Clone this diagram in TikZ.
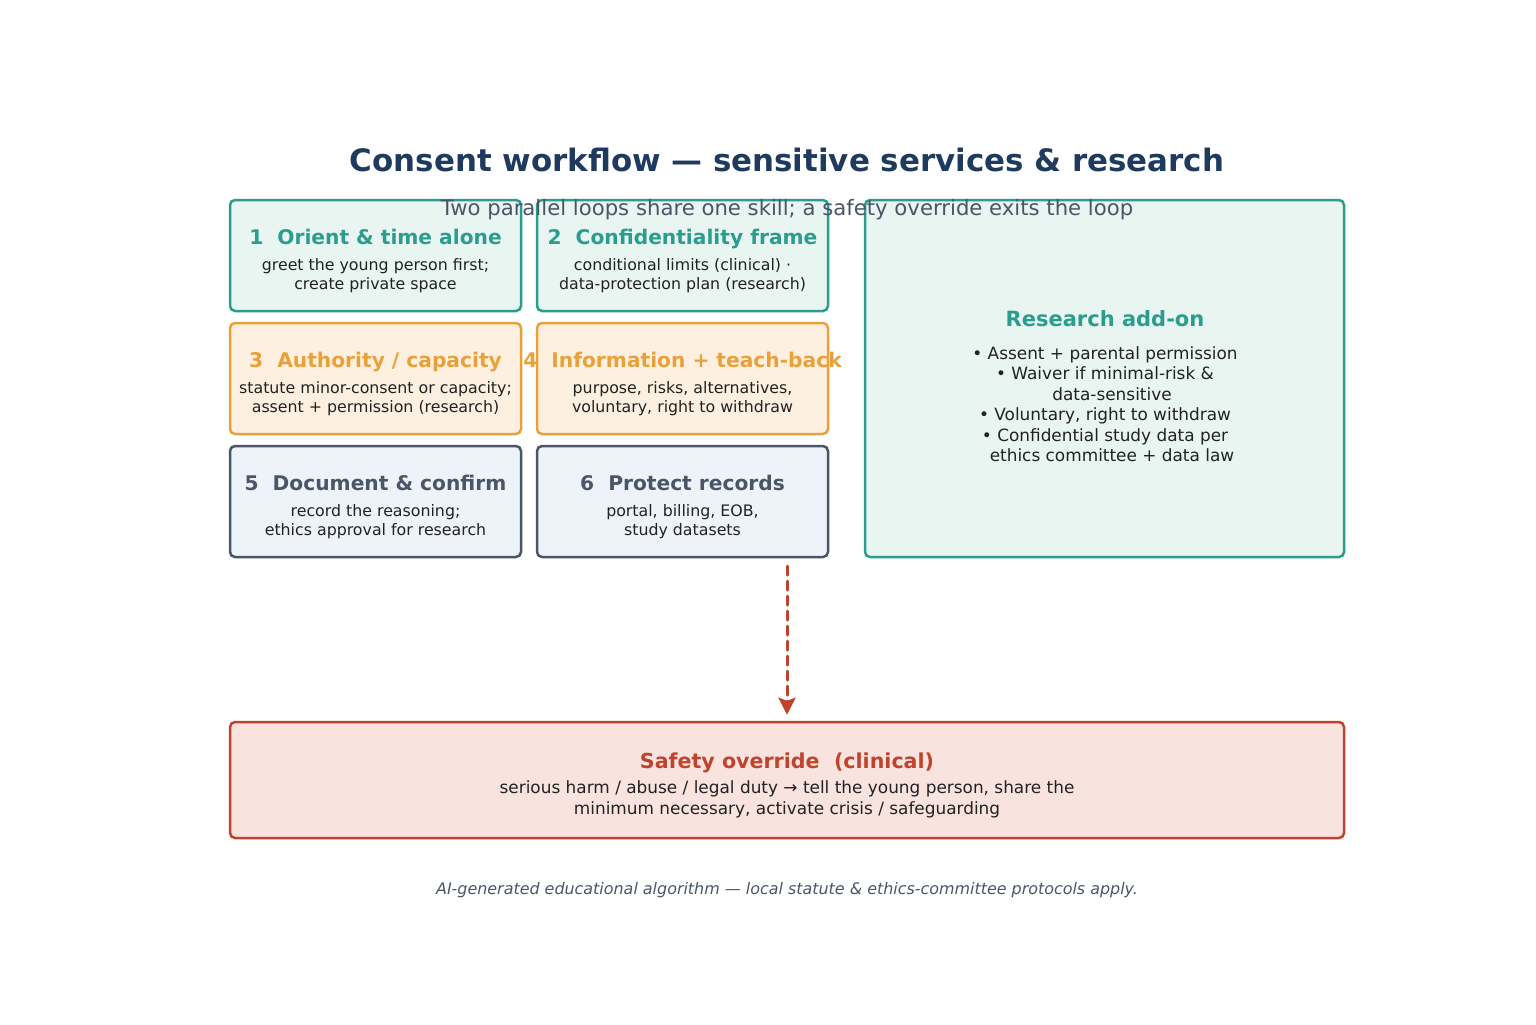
\documentclass[tikz,border=0pt]{standalone}
\usepackage{fontspec}
\setmainfont{DejaVu Sans}
\usepackage{xcolor}
\usetikzlibrary{arrows.meta,positioning}
\definecolor{tealline}{RGB}{42,157,143}
\definecolor{tealfill}{RGB}{232,245,241}
\definecolor{orangeline}{RGB}{233,162,59}
\definecolor{orangefill}{RGB}{253,240,224}
\definecolor{slateline}{RGB}{74,85,104}
\definecolor{slatefill}{RGB}{238,243,249}
\definecolor{alertred}{RGB}{192,67,46}
\definecolor{alertfill}{RGB}{248,227,223}
\definecolor{navytext}{RGB}{31,58,95}
\definecolor{bodytext}{RGB}{34,34,34}
\newcommand{\cardhead}[2]{{\color{#1}\fontsize{10.1}{12}\selectfont\bfseries #2}}

\begin{document}
\begin{tikzpicture}[x=0.5pt,y=-0.5pt,
    card/.style={draw, line width=1.25pt, rounded corners=2.5pt,
      minimum width=145.5pt, minimum height=55.5pt, inner sep=0pt},
    cardtext/.style={align=center, text=bodytext, inner sep=0pt,
      font=\fontsize{7.9}{9.5}\selectfont, yshift=-2.5pt},
    overarrow/.style={draw=alertred, line width=1.5pt, line cap=round,
      dash pattern=on 4.5pt off 3pt,
      -{Stealth[length=8.5pt,width=8.5pt,inset=1.5pt,line cap=butt]}, shorten >=3pt}]
    \useasboundingbox (0,0) rectangle (1536,1024);

    % step cards, two columns
    \node[card, draw=tealline, fill=tealfill] (orient) at (375.5,255.5) {};
    \node[cardtext] (orienttxt) at (orient)
      {\cardhead{tealline}{1\ \ Orient \& time alone}\\[3.5pt]
       greet the young person first;\\ create private space};
    \node[card, draw=tealline, fill=tealfill] (confid) at (682.5,255.5) {};
    \node[cardtext] (confidtxt) at (confid)
      {\cardhead{tealline}{2\ \ Confidentiality frame}\\[3.5pt]
       conditional limits (clinical) ·\\ data-protection plan (research)};
    \node[card, draw=orangeline, fill=orangefill] (authority) at (375.5,378.5) {};
    \node[cardtext] (authoritytxt) at (authority)
      {\cardhead{orangeline}{3\ \ Authority / capacity}\\[3.5pt]
       statute minor-consent or capacity;\\ assent + permission (research)};
    \node[card, draw=orangeline, fill=orangefill] (inform) at (682.5,378.5) {};
    \node[cardtext] (informtxt) at (inform)
      {\cardhead{orangeline}{4\ \ Information + teach-back}\\[3.5pt]
       purpose, risks, alternatives,\\ voluntary, right to withdraw};
    \node[card, draw=slateline, fill=slatefill] (document) at (375.5,501.5) {};
    \node[cardtext] (documenttxt) at (document)
      {\cardhead{slateline}{5\ \ Document \& confirm}\\[3.5pt]
       record the reasoning;\\ ethics approval for research};
    \node[card, draw=slateline, fill=slatefill] (protect) at (682.5,501.5) {};
    \node[cardtext] (protecttxt) at (protect)
      {\cardhead{slateline}{6\ \ Protect records}\\[3.5pt]
       portal, billing, EOB,\\ study datasets};

    % research panel
    \node[card, draw=tealline, fill=tealfill, minimum width=239.5pt,
      minimum height=178.5pt] (research) at (1104.5,378.5) {};
    \node[cardtext, font=\fontsize{8.45}{10.2}\selectfont, yshift=0pt]
      (researchtxt) at (1105,381)
      {{\color{tealline}\fontsize{10.5}{12}\selectfont\bfseries Research add-on}\\[6.5pt]
       • Assent + parental permission\\
       • Waiver if minimal-risk \&\\ \hspace*{7pt}data-sensitive\\
       • Voluntary, right to withdraw\\
       • Confidential study data per\\ \hspace*{7pt}ethics committee + data law};

    % safety override
    \node[card, draw=alertred, fill=alertfill, minimum width=557pt,
      minimum height=58pt] (safety) at (787,780) {};
    \node[cardtext, font=\fontsize{8.45}{10.5}\selectfont, yshift=0pt]
      (safetytxt) at (safety)
      {{\color{alertred}\fontsize{10.3}{12}\selectfont\bfseries Safety override\ \ (clinical)}\\[2pt]
       serious harm / abuse / legal duty → tell the young person, share the\\
       minimum necessary, activate crisis / safeguarding};
    \coordinate (ovsrc) at (787,566);
    \draw[overarrow] (ovsrc) -- (ovsrc |- safety.north);

    % headings
    \node[text=navytext, font=\fontsize{15.45}{18}\selectfont\bfseries] (title) at (787,160)
      {Consent workflow — sensitive services \& research};
    \node[text=slateline, font=\fontsize{10.6}{12}\selectfont] (subtitle) at (787,210)
      {Two parallel loops share one skill; a safety override exits the loop};
    \node[text=slateline, font=\fontsize{7.96}{9}\selectfont\itshape] (footer) at (787,890)
      {AI-generated educational algorithm — local statute \& ethics-committee protocols apply.};
  \end{tikzpicture}
\end{document}
